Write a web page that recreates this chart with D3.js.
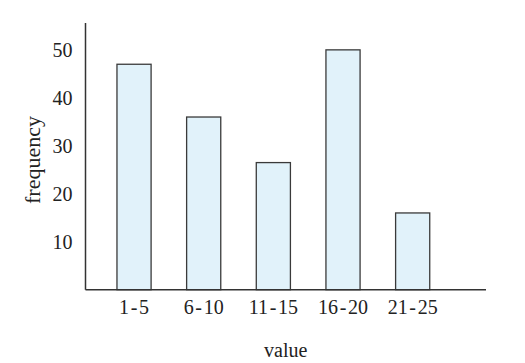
<!DOCTYPE html>
<html>
<head>
<meta charset="utf-8">
<script src="https://cdn.jsdelivr.net/npm/d3@7"></script>
<style>
  body { margin: 0; background: #fff; }
  text { font-family: "Liberation Serif", "Times New Roman", serif; fill: #222; }
</style>
</head>
<body>
<svg width="525" height="363"></svg>
<script>
var categories = ["1\u200A-\u200A5", "6\u200A-\u200A10", "11\u200A-\u200A15", "16\u200A-\u200A20", "21\u200A-\u200A25"];
var frequencies = [47, 36, 26.5, 50, 16];
var yTicks = [10, 20, 30, 40, 50];

function drawChart() {
    var svg = d3.select("svg");

    var plotLeft = 85.5, plotRight = 486, plotTop = 23, plotBottom = 289.7;

    var x = d3.scaleBand()
        .domain(categories)
        .range([99.2, 447.5])
        .paddingInner(0.51)
        .paddingOuter(0.255);

    var y = d3.scaleLinear()
        .domain([0, 55.6])
        .range([plotBottom, plotTop]);

    // bars
    svg.append("g")
      .selectAll("rect")
      .data(frequencies)
      .enter().append("rect")
        .attr("x", function(d, i) { return x(categories[i]); })
        .attr("y", function(d) { return y(d); })
        .attr("width", x.bandwidth())
        .attr("height", function(d) { return y(0) - y(d); })
        .attr("fill", "#e1f2fa")
        .attr("stroke", "#3a3a3a")
        .attr("stroke-width", 1.3);

    // axes, no tick marks
    var gy = svg.append("g")
        .attr("transform", "translate(" + plotLeft + ",0)")
        .call(d3.axisLeft(y).tickValues(yTicks).tickSize(0).tickPadding(13));
    gy.select(".domain").remove();
    gy.selectAll("text")
        .style("font-family", "Liberation Serif, serif")
        .style("font-size", "20px")
        .attr("fill", "#222");

    var gx = svg.append("g")
        .attr("transform", "translate(0," + plotBottom + ")")
        .call(d3.axisBottom(x).tickSize(0).tickPadding(10));
    gx.select(".domain").remove();
    gx.selectAll("text")
        .style("font-family", "Liberation Serif, serif")
        .style("font-size", "20px")
        .attr("fill", "#222");

    svg.append("line")
        .attr("x1", plotLeft).attr("x2", plotLeft)
        .attr("y1", plotTop).attr("y2", plotBottom)
        .attr("stroke", "#333").attr("stroke-width", 1.5);
    svg.append("line")
        .attr("x1", plotLeft).attr("x2", plotRight)
        .attr("y1", plotBottom).attr("y2", plotBottom)
        .attr("stroke", "#333").attr("stroke-width", 1.5);

    // axis titles
    svg.append("text")
        .attr("x", (plotLeft + plotRight) / 2)
        .attr("y", 356.7)
        .attr("text-anchor", "middle")
        .style("font-size", "20px")
        .text("value");

    svg.append("text")
        .attr("transform", "translate(40,160) rotate(-90)")
        .attr("text-anchor", "middle")
        .style("font-size", "22px")
        .text("frequency");
}

drawChart();
</script>
</body>
</html>
